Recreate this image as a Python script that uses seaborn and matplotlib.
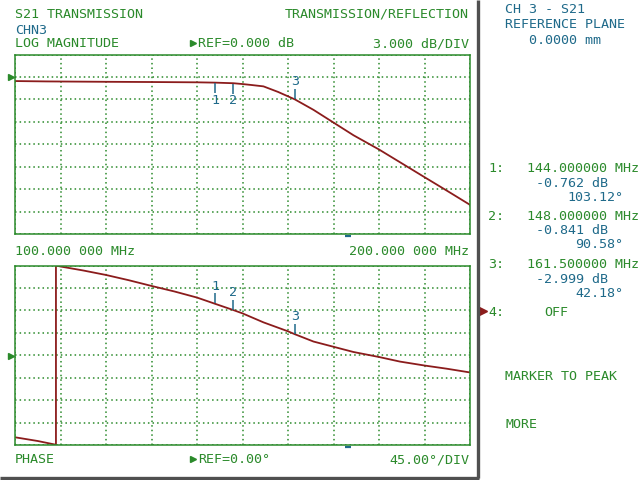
import numpy as np
import pandas as pd
import matplotlib
matplotlib.use("Agg")
import matplotlib.pyplot as plt
from matplotlib.transforms import offset_copy
import seaborn as sns

# ---------------- data ----------------
mag_freq = [100, 107, 120, 130, 140, 144, 148, 150, 152, 154.6, 157.8, 161.5,
            165.6, 170, 174.4, 180, 184.6, 190, 194.9, 200]
mag_db = [-0.55, -0.60, -0.65, -0.68, -0.72, -0.762, -0.841, -0.95, -1.08, -1.26,
          -2.0, -2.999, -4.4, -6.1, -7.8, -9.7, -11.4, -13.4, -15.2, -17.1]

phase_freq = [100, 105, 109.0, 109.0, 110, 115, 120, 125, 130, 135, 140, 144, 148,
              150, 154.6, 160, 161.5, 165.6, 170, 174.4, 180, 184.6, 190, 194.9, 200]
phase_deg = [-164.5, -172, -179.5, 180, 178, 170, 161, 150.5, 139, 128, 115.7, 103.12,
             90.58, 84, 66, 48, 42.18, 27.5, 17, 6.5, -3.5, -12.7, -20.6, -27, -34.5]

marker_freq = [144.0, 148.0, 161.5]
marker_mag = [-0.762, -0.841, -2.999]
marker_phase = [103.12, 90.58, 42.18]
marker_names = ["1", "2", "3"]
marker_freq_text = ["144.000000 MHz", "148.000000 MHz", "161.500000 MHz"]
marker_mag_text = ["-0.762 dB", "-0.841 dB", "-2.999 dB"]
marker_phase_text = ["103.12°", "90.58°", "42.18°"]

start_label = "100.000 000 MHz"
stop_label = "200.000 000 MHz"

# ---------------- style ----------------
sns.set_style("white")
plt.rcParams["font.family"] = ["DejaVu Sans Mono", "DejaVu Sans"]

GREEN = "#2b8a2b"
RED = "#8b1c1c"
BLUE = "#1f6a8a"
GRAY = "#505050"
FS = 9.6

fig = plt.figure(figsize=(6.4, 4.8), dpi=100)
fig.patch.set_facecolor("white")

def px_axes(x0, y0, x1, y1):
    return fig.add_axes([x0 / 640, 1 - y1 / 480, (x1 - x0) / 640, (y1 - y0) / 480])

ax1 = px_axes(15, 54.5, 470, 234)
ax2 = px_axes(15, 265.5, 470, 445)

mag_df = pd.DataFrame({"freq": mag_freq, "db": mag_db})
ph_df = pd.DataFrame({"freq": phase_freq, "deg": phase_deg})

sns.lineplot(data=mag_df, x="freq", y="db", ax=ax1, color=RED, lw=1.3,
             estimator=None, sort=False)
sns.lineplot(data=ph_df, x="freq", y="deg", ax=ax2, color=RED, lw=1.3,
             estimator=None, sort=False)

ax1.set_ylim(-21, 3)
ax2.set_ylim(-180, 180)
for ax, step, lo, hi in [(ax1, 3, -21, 3), (ax2, 45, -180, 180)]:
    ax.set_xlim(100, 200)
    ax.set_xticks(np.arange(100, 201, 10))
    ax.set_yticks(np.arange(lo, hi + 0.1, step))
    ax.grid(True, color=GREEN, ls=(0, (1, 2)), lw=1.1)
    ax.set_axisbelow(True)
    ax.tick_params(length=0, labelbottom=False, labelleft=False)
    ax.set_xlabel("")
    ax.set_ylabel("")
    ax.set_facecolor("white")
    for s in ax.spines.values():
        s.set_color(GREEN)
        s.set_linewidth(1.1)

# markers on traces
def draw_marker(ax, f, v, name, up):
    sgn = 1 if up else -1
    tt = offset_copy(ax.transData, fig=fig, x=0, y=sgn * 5.5, units="dots")
    tl = offset_copy(ax.transData, fig=fig, x=0, y=sgn * 17.5, units="dots")
    ax.plot([f], [v], marker="|", ms=6.5, mew=1.1, color=BLUE, transform=tt, clip_on=False)
    ax.text(f, v, name, transform=tl, ha="center", va="center", color=BLUE, fontsize=FS)

for f, m, p, n in zip(marker_freq, marker_mag, marker_phase, marker_names):
    draw_marker(ax1, f, m, n, up=(n == "3"))
    draw_marker(ax2, f, p, n, up=True)

# small blue dashes below each grid
for ax in (ax1, ax2):
    lo = ax.get_ylim()[0]
    tb = offset_copy(ax.transData, fig=fig, x=0, y=-1.5, units="dots")
    ax.plot([173.2], [lo], marker="_", ms=5, mew=1.6, color=BLUE, transform=tb, clip_on=False)

# ---------------- overlay (pixel coords) ----------------
ov = fig.add_axes([0, 0, 1, 1], facecolor="none")
ov.set_xlim(0, 640)
ov.set_ylim(480, 0)
ov.axis("off")

def T(x, y, s, c=GREEN, ha="left"):
    ov.text(x, y, s, color=c, fontsize=FS, ha=ha, va="baseline")

T(15, 17.5, "S21 TRANSMISSION")
T(469, 17.5, "TRANSMISSION/REFLECTION", ha="right")
T(15, 34, "CHN3", c=BLUE)
T(15, 47.3, "LOG MAGNITUDE")
T(198.3, 47.3, "REF=0.000 dB")
T(469, 47.3, "3.000 dB/DIV", ha="right")
T(15, 255, start_label)
T(469, 255, stop_label, ha="right")
T(15, 463.3, "PHASE")
T(198.3, 463.3, "REF=0.00°")
T(469, 463.3, "45.00°/DIV", ha="right")

ov.plot([192.7], [42.5], marker=">", ms=4.5, color=GREEN, ls="none")
ov.plot([192.7], [458.8], marker=">", ms=4.5, color=GREEN, ls="none")
ov.plot([10.5], [77.3], marker=">", ms=4.5, color=GREEN, ls="none")
ov.plot([10.5], [355.5], marker=">", ms=4.5, color=GREEN, ls="none")

# right side panel
T(505, 12.7, "CH 3 - S21", c=BLUE)
T(505, 28.3, "REFERENCE PLANE", c=BLUE)
T(529, 44, "0.0000 mm", c=BLUE)

rows = [172.3, 220, 268.3]
for base, n, ft, mt, pt in zip(rows, marker_names, marker_freq_text, marker_mag_text, marker_phase_text):
    T(488, base, n + ":")
    T(639, base, ft, ha="right")
    T(608, base + 14.5, mt, c=BLUE, ha="right")
    T(623, base + 28.5, pt, c=BLUE, ha="right")

T(488, 316, "4:")
T(544, 316, "OFF")
ov.plot([482.5], [311], marker=">", ms=6, color=RED, ls="none")
T(505, 380, "MARKER TO PEAK")
T(505, 428, "MORE")

# gray frame
ov.plot([478, 478], [0, 478], color=GRAY, lw=2.4, solid_capstyle="butt")
ov.plot([0, 479.2], [478, 478], color=GRAY, lw=2.4, solid_capstyle="butt")

fig.savefig("out.png", dpi=100, facecolor="white")
